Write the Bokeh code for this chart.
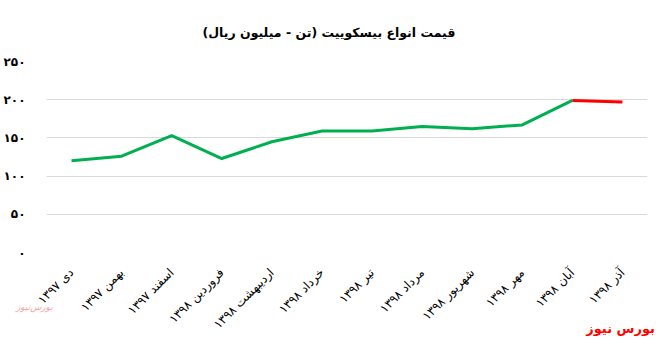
from math import pi
from bokeh.plotting import figure
from bokeh.layouts import column
from bokeh.models import Range1d, FactorRange, FixedTicker, Div
from bokeh.embed import file_html
from bokeh.resources import INLINE

# Data
months = ["دی ۱۳۹۷", "بهمن ۱۳۹۷", "اسفند ۱۳۹۷", "فروردین ۱۳۹۸", "اردیبهشت ۱۳۹۸",
          "خرداد ۱۳۹۸", "تیر ۱۳۹۸", "مرداد ۱۳۹۸", "شهریور ۱۳۹۸", "مهر ۱۳۹۸",
          "آبان ۱۳۹۸", "آذر ۱۳۹۸"]
prices = [120, 126, 153, 123, 145, 159, 159, 165, 162, 167, 199, 197]
y_ticks = [0, 50, 100, 150, 200, 250]
y_tick_labels = ["۰", "۵۰", "۱۰۰", "۱۵۰", "۲۰۰", "۲۵۰"]
title_text = "قیمت انواع بیسکوییت (تن - میلیون ریال)"
source_text = "بورس نیوز"
logo_text = "بورس‌نیوز"

FONT = "DejaVu Sans"

p = figure(width=660, height=339, x_range=FactorRange(*months), y_range=Range1d(0, 250),
           output_backend="svg", toolbar_location=None,
           min_border_left=40, min_border_right=13, min_border_top=61, min_border_bottom=86)
p.outline_line_color = None
p.background_fill_color = "white"
p.border_fill_color = "white"

p.title.text = title_text
p.title.align = "left"
p.title.offset = 156
p.title.text_font = FONT
p.title.text_font_size = "12.5px"
p.title.text_font_style = "bold"
p.title.text_color = "#000000"
p.title.standoff = 44

# grid
p.xgrid.grid_line_color = None
p.ygrid.grid_line_color = "#d9d9d9"
p.ygrid.grid_line_width = 1
p.yaxis.ticker = FixedTicker(ticks=y_ticks)
p.yaxis.major_label_overrides = {t: l for t, l in zip(y_ticks, y_tick_labels)}

for ax in (p.xaxis[0], p.yaxis[0]):
    ax.axis_line_color = None
    ax.major_tick_line_color = None
    ax.minor_tick_line_color = None
    ax.major_label_text_font = FONT
    ax.major_label_text_color = "#000000"

p.yaxis.major_label_text_font_size = "12px"
p.yaxis.major_label_text_font_style = "bold"
p.yaxis.major_label_standoff = 15

p.xaxis.major_label_orientation = pi / 4
p.xaxis.major_label_text_font_size = "12px"
p.xaxis.major_label_standoff = 12

# lines
p.line(months[:11], prices[:11], line_color="#00B050", line_width=3)
p.line(months[10:], prices[10:], line_color="#FF0000", line_width=3)

# credit texts laid over the bottom strip of the figure
credit_html = (
    '<div style="position:relative;width:660px;height:20px;font-family:\'DejaVu Sans\';">'
    '<span style="position:absolute;left:16px;top:-18px;font-size:9px;font-style:italic;'
    'color:#F2A5A5;white-space:nowrap;">' + logo_text + '</span>'
    '<span style="position:absolute;right:5px;top:1px;font-size:13px;font-weight:bold;'
    'color:#FF0000;white-space:nowrap;">' + source_text + '</span>'
    '</div>'
)
credit = Div(text=credit_html, width=660, height=20, margin=(-20, 0, 0, 0))

layout = column(p, credit, spacing=0)
open("out.html", "w").write(file_html(layout, INLINE))
